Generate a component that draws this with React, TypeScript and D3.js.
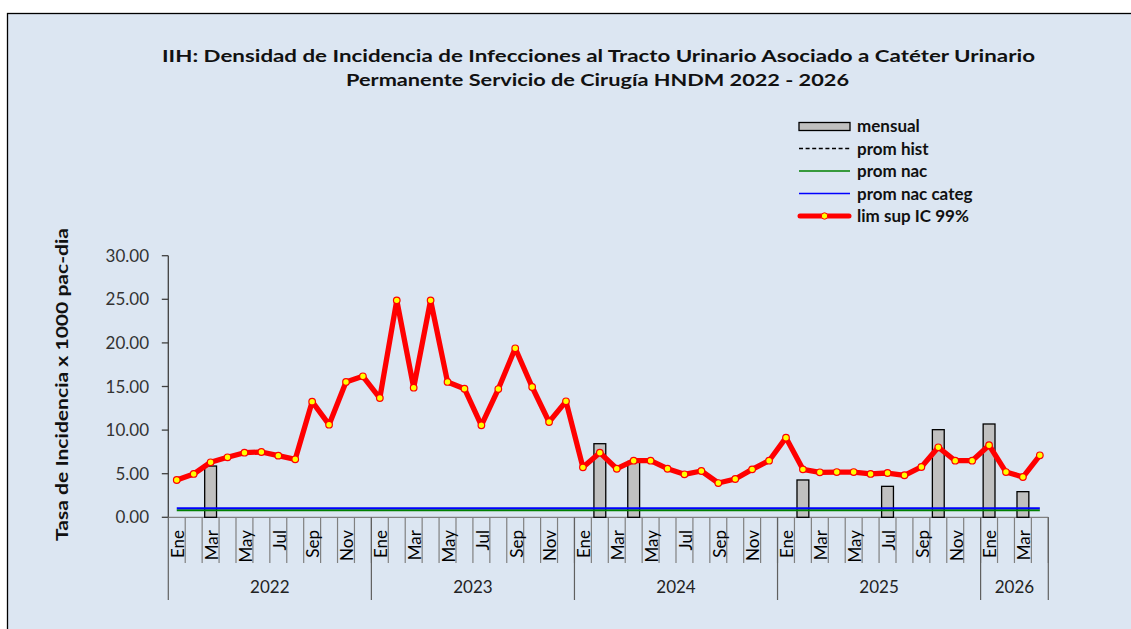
import React from "react";
import * as d3 from "d3";

const years = ["2022", "2023", "2024", "2025", "2026"];
const monthNames = ["Ene", "Feb", "Mar", "Abr", "May", "Jun", "Jul", "Ago", "Sep", "Oct", "Nov", "Dic"];
const monthsPerYear = [12, 12, 12, 12, 4];

// lim sup IC 99% (red line)
const limSup = [
  4.28, 4.97, 6.31, 6.88, 7.41, 7.49, 7.07, 6.65, 13.26, 10.62, 15.52, 16.17,
  13.68, 24.88, 14.86, 24.88, 15.52, 14.75, 10.55, 14.71, 19.38, 14.94, 10.93, 13.3,
  5.73, 7.41, 5.57, 6.49, 6.49, 5.57, 4.93, 5.31, 3.93, 4.39, 5.5, 6.49,
  9.13, 5.5, 5.16, 5.19, 5.19, 4.97, 5.08, 4.82, 5.77, 8.03, 6.49, 6.49,
  8.26, 5.19, 4.62, 7.11,
];

// mensual (bars)
const mensual = [
  0, 0, 5.88, 0, 0, 0, 0, 0, 0, 0, 0, 0,
  0, 0, 0, 0, 0, 0, 0, 0, 0, 0, 0, 0,
  0, 8.44, 0, 6.4, 0, 0, 0, 0, 0, 0, 0, 0,
  0, 4.28, 0, 0, 0, 0, 3.55, 0, 0, 10.05, 0, 0,
  10.7, 0, 2.94, 0,
];

const promNac = 0.8;
const promNacCateg = 1.03;

const yTicks = [0, 5, 10, 15, 20, 25, 30];

const legendItems = ["mensual", "prom hist", "prom nac", "prom nac categ", "lim sup IC 99%"];

const FONT = "Lato, 'Open Sans', sans-serif";

export default function App() {
  const W = 1131;
  const H = 629;
  const left = 168.3;
  const right = 1048.3;
  const top = 255.7;
  const bottom = 517.3;

  const cats: { year: string; month: string; mi: number; idx: number }[] = [];
  years.forEach((yr, yi) => {
    for (let m = 0; m < monthsPerYear[yi]; m++) {
      cats.push({ year: yr, month: monthNames[m], mi: m, idx: cats.length });
    }
  });
  const ids = cats.map((c) => String(c.idx));

  const x = d3.scaleBand<string>().domain(ids).range([left, right]).paddingInner(0).paddingOuter(0);
  const bw = x.bandwidth();
  const cx = (i: number) => (x(String(i)) as number) + bw / 2;
  const y = d3.scaleLinear().domain([0, 30]).range([bottom, top]);

  const line = d3
    .line<number>()
    .x((_, i) => cx(i))
    .y((d) => y(d));

  const yearBounds: { year: string; x0: number; x1: number }[] = [];
  let start = 0;
  years.forEach((yr, yi) => {
    const x0 = x(String(start)) as number;
    const x1 = (x(String(start + monthsPerYear[yi] - 1)) as number) + bw;
    yearBounds.push({ year: yr, x0, x1 });
    start += monthsPerYear[yi];
  });

  const barW = bw * 0.7;
  const lx0 = 799;
  const lx1 = 850;
  const ly = [126, 148.5, 171, 193.5, 216];

  return (
    <svg
      width={W}
      height={H}
      style={{ position: "absolute", left: 0, top: 0, background: "#ffffff" }}
      fontFamily={FONT}
    >
      <rect x={7.5} y={13.5} width={W + 10} height={H} fill="#dce6f2" stroke="#000" strokeWidth={1.3} />

      {/* Title */}
      <text x={598.5} y={62} textAnchor="middle" fontWeight="bold" fontSize={17.5} fill="#111" textLength={873} lengthAdjust="spacingAndGlyphs">
        IIH: Densidad de Incidencia de Infecciones al Tracto Urinario Asociado a Catéter Urinario
      </text>
      <text x={597.5} y={86} textAnchor="middle" fontWeight="bold" fontSize={17.5} fill="#111" textLength={503} lengthAdjust="spacingAndGlyphs">
        Permanente Servicio de Cirugía HNDM 2022 - 2026
      </text>

      {/* Legend */}
      <rect x={lx0} y={122.5} width={lx1 - lx0} height={8} fill="#c0c0c0" stroke="#000" strokeWidth={1.3} />
      <line x1={lx0} x2={lx1} y1={ly[1]} y2={ly[1]} stroke="#000" strokeWidth={1.3} strokeDasharray="4,2.6" />
      <line x1={lx0} x2={lx1} y1={ly[2]} y2={ly[2]} stroke="#008000" strokeWidth={1.6} />
      <line x1={lx0} x2={lx1} y1={ly[3]} y2={ly[3]} stroke="#0000ff" strokeWidth={1.6} />
      <line x1={lx0 + 1} x2={lx1 - 1} y1={ly[4]} y2={ly[4]} stroke="#ff0000" strokeWidth={5} strokeLinecap="round" />
      <circle cx={(lx0 + lx1) / 2} cy={ly[4]} r={3.2} fill="#ffff00" stroke="#ff0000" strokeWidth={1} />
      {legendItems.map((t, i) => (
        <text key={t} x={857} y={ly[i]} dy="0.36em" fontSize={17} fontWeight="bold" fill="#111">
          {t}
        </text>
      ))}

      {/* Y axis */}
      <line x1={left} x2={left} y1={top} y2={bottom} stroke="#404040" strokeWidth={1.3} />
      {yTicks.map((t) => (
        <g key={t}>
          <line x1={left - 6.5} x2={left} y1={y(t)} y2={y(t)} stroke="#404040" strokeWidth={1.3} />
          <text x={149} y={y(t)} dy="0.36em" textAnchor="end" fontSize={17} fill="#333">
            {t.toFixed(2)}
          </text>
        </g>
      ))}
      <text
        transform={`translate(68, 384.5) rotate(-90)`}
        textAnchor="middle"
        fontWeight="bold"
        fontSize={17.5}
        fill="#111"
        textLength={313}
        lengthAdjust="spacingAndGlyphs"
      >
        Tasa de Incidencia x 1000 pac-dia
      </text>

      {/* X axis */}
      <line x1={left} x2={right} y1={bottom} y2={bottom} stroke="#808080" strokeWidth={1.2} />
      {cats.map((c) => (
        <line
          key={"t" + c.idx}
          x1={(x(String(c.idx)) as number) + bw}
          x2={(x(String(c.idx)) as number) + bw}
          y1={bottom}
          y2={563}
          stroke="#808080"
          strokeWidth={1.2}
        />
      ))}
      {yearBounds.map((b, i) => (
        <g key={b.year}>
          {i === 0 && <line x1={b.x0} x2={b.x0} y1={bottom} y2={600} stroke="#606060" strokeWidth={1.2} />}
          <line x1={b.x1} x2={b.x1} y1={bottom} y2={600} stroke="#606060" strokeWidth={1.2} />
          <text x={(b.x0 + b.x1) / 2} y={593} textAnchor="middle" fontSize={17} fill="#222">
            {b.year}
          </text>
        </g>
      ))}
      {cats
        .filter((c) => c.mi % 2 === 0)
        .map((c) => (
          <text
            key={"m" + c.idx}
            transform={`translate(${cx(c.idx) + 7.3}, 530) rotate(-90)`}
            textAnchor="end"
            fontSize={17}
            fill="#000"
          >
            {c.month}
          </text>
        ))}

      {/* Bars */}
      {mensual.map((v, i) =>
        v > 0 ? (
          <rect
            key={"b" + i}
            x={cx(i) - barW / 2}
            y={y(v)}
            width={barW}
            height={y(0) - y(v)}
            fill="#c0c0c0"
            stroke="#000"
            strokeWidth={1.3}
          />
        ) : null
      )}

      {/* Reference lines */}
      <line x1={cx(0)} x2={cx(cats.length - 1)} y1={y(promNac)} y2={y(promNac)} stroke="#008000" strokeWidth={2} />
      <line x1={cx(0)} x2={cx(cats.length - 1)} y1={y(promNacCateg)} y2={y(promNacCateg)} stroke="#0000ff" strokeWidth={2} />

      {/* Red line */}
      <path d={line(limSup) as string} fill="none" stroke="#ff0000" strokeWidth={5.3} strokeLinejoin="round" />
      {limSup.map((v, i) => (
        <circle key={"c" + i} cx={cx(i)} cy={y(v)} r={3.3} fill="#ffff00" stroke="#ff0000" strokeWidth={1.2} />
      ))}
    </svg>
  );
}
